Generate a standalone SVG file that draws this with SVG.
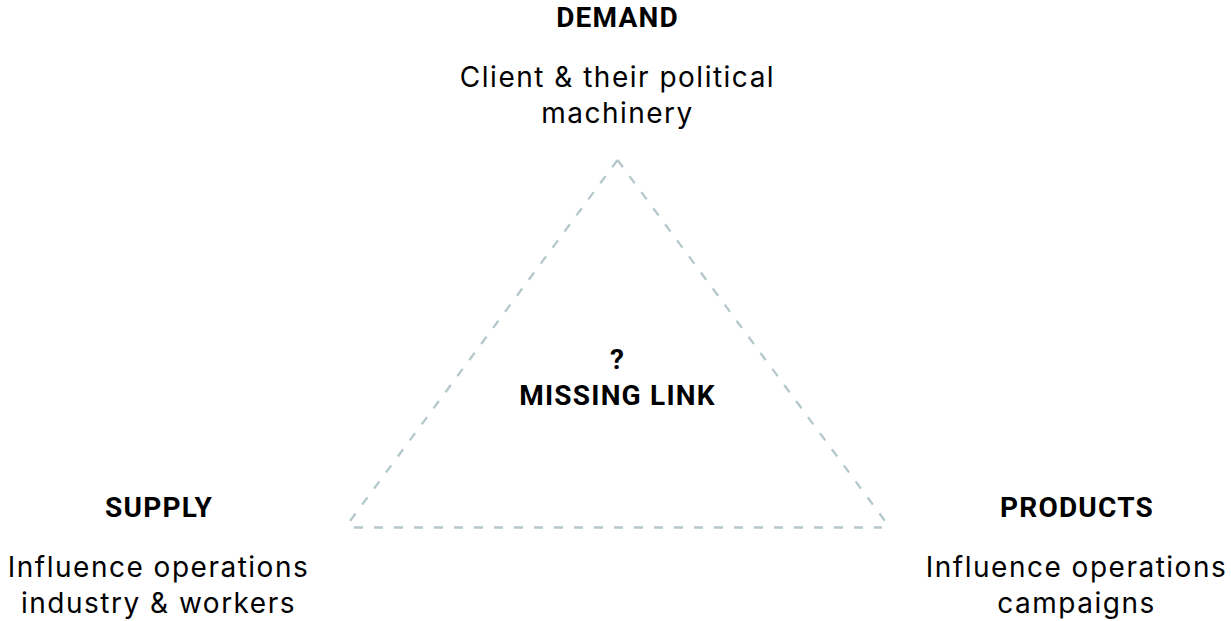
<svg xmlns="http://www.w3.org/2000/svg" width="1231" height="621" viewBox="0 0 1231 621">
<style>
.h{font-family:Roboto,"Liberation Sans",sans-serif;font-weight:700;font-size:28px;letter-spacing:1.2px;fill:#000;text-anchor:middle}
.b{font-family:Inter,"Liberation Sans",sans-serif;font-weight:400;font-size:28px;letter-spacing:1.5px;fill:#000;text-anchor:middle}
.tri{fill:none;stroke:#b4c8cb;stroke-width:2.3;stroke-dasharray:9 11}
</style>
<rect width="1231" height="621" fill="#fff"/>
<g id="connectors">
<line class="tri" x1="617.5" y1="160" x2="350" y2="521"/>
<line class="tri" x1="617.5" y1="160" x2="885" y2="521"/>
<line class="tri" x1="354" y1="527.5" x2="882" y2="527.5"/>
</g>
<g id="demand">
<text class="h" x="617.5" y="27">DEMAND</text>
<text class="b" x="617.5" y="87">Client &amp; their political</text>
<text class="b" x="617.5" y="123">machinery</text>
</g>
<g id="supply">
<text class="h" x="159" y="516.5">SUPPLY</text>
<text class="b" x="158.5" y="577">Influence operations</text>
<text class="b" x="158.5" y="613">industry &amp; workers</text>
</g>
<g id="products">
<text class="h" x="1077" y="516.5">PRODUCTS</text>
<text class="b" x="1076.5" y="577">Influence operations</text>
<text class="b" x="1076.5" y="613">campaigns</text>
</g>
<g id="missing-link">
<text class="h" x="617.5" y="369">?</text>
<text class="h" x="617.5" y="405">MISSING LINK</text>
</g>
</svg>
